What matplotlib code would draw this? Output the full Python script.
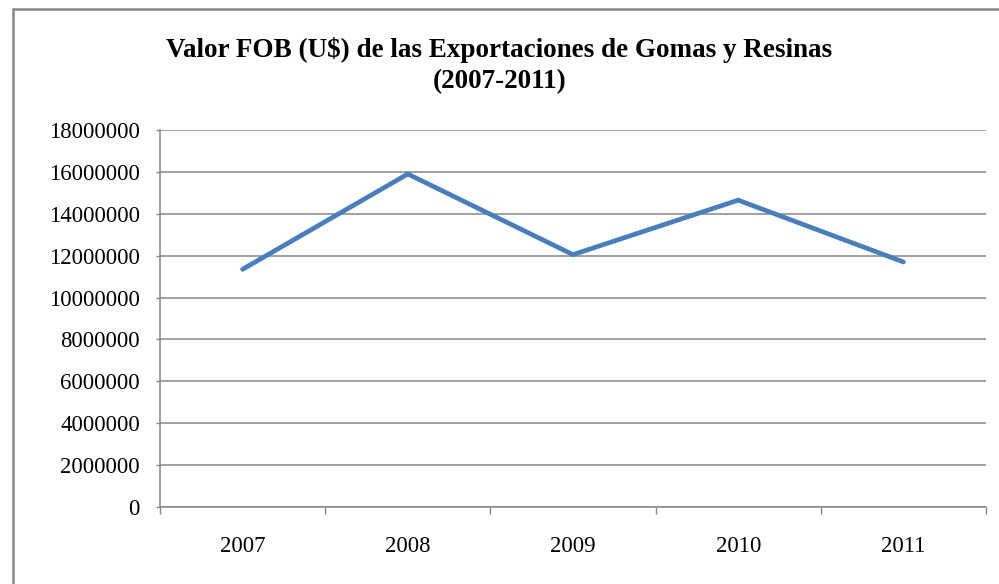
import matplotlib.pyplot as plt
from matplotlib.patches import Rectangle
from matplotlib.ticker import FixedLocator, NullFormatter

# dados
anos = ["2007", "2008", "2009", "2010", "2011"]
valores_fob = [11350000, 15900000, 12050000, 14650000, 11700000]
ticks_y = [0, 2000000, 4000000, 6000000, 8000000, 10000000,
           12000000, 14000000, 16000000, 18000000]

plt.rcParams['font.family'] = ['Liberation Serif', 'DejaVu Serif']

fig = plt.figure(figsize=(9.99, 5.84), dpi=100)

# borda do grafico (cortada a direita e em baixo)
borda = Rectangle((13 / 999, -0.2), 1.2, 1 - 9 / 584 + 0.2,
                  transform=fig.transFigure, fill=False,
                  edgecolor='#868686', linewidth=1.8)
fig.patches.append(borda)

ax = fig.add_axes([160 / 999, 1 - 507 / 584, 826 / 999, 377 / 584])

x = list(range(len(anos)))
ax.plot(x, valores_fob, color='#4A7EBB', linewidth=3.4,
        solid_joinstyle='miter', solid_capstyle='round', zorder=3)

ax.set_xlim(-0.5, len(anos) - 0.5)
ax.set_ylim(0, 18000000)

# eixo y
ax.set_yticks(ticks_y)
ax.set_yticklabels([str(v) for v in ticks_y])
ax.tick_params(axis='y', length=3, width=1, color='#868686', pad=11.5,
               labelsize=16.4)
ax.grid(axis='y', color='#868686', linewidth=1.1)
ax.set_axisbelow(True)

# eixo x: marcas entre categorias, rotulos no centro
ax.xaxis.set_major_locator(FixedLocator([i - 0.5 for i in range(len(anos) + 1)]))
ax.xaxis.set_major_formatter(NullFormatter())
ax.xaxis.set_minor_locator(FixedLocator(x))
ax.set_xticklabels(anos, minor=True)
ax.tick_params(axis='x', which='major', length=5, width=1, color='#868686')
ax.tick_params(axis='x', which='minor', length=0, pad=21, labelsize=16.4)

for lado in ['top', 'right']:
    ax.spines[lado].set_visible(False)
for lado in ['left', 'bottom']:
    ax.spines[lado].set_color('#868686')
    ax.spines[lado].set_linewidth(1.1)

fig.text(0.5, 1 - 50 / 584,
         "Valor FOB (U$) de las Exportaciones de Gomas y Resinas",
         ha='center', va='center', fontsize=19.5, fontweight='bold')
fig.text(0.5, 1 - 82 / 584, "(2007-2011)",
         ha='center', va='center', fontsize=19.5, fontweight='bold')

fig.savefig("out.png", dpi=100)
